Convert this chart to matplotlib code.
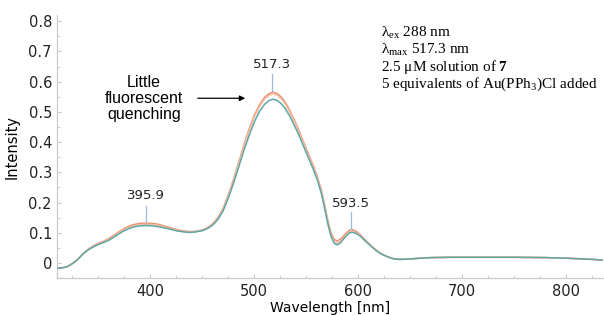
import matplotlib

matplotlib.use("Agg")
import matplotlib.pyplot as plt
from matplotlib.ticker import MultipleLocator

# emission spectra (3 overlapping scans)
wavelength = [310, 315, 320, 325, 330, 335, 340, 345, 350, 355, 360, 365, 370,
              375, 380, 385, 390, 396, 402, 408, 414, 420, 426, 432, 438, 444,
              450, 455, 460, 465, 470, 475, 480, 485, 490, 495, 500, 505, 510,
              514, 518, 522, 526, 530, 534, 538, 542, 547, 552, 557, 561, 565,
              568, 571, 574, 577, 580, 583, 587, 591, 594, 598, 602, 607, 612,
              617, 622, 628, 634, 640, 648, 656, 670, 690, 720, 750, 780, 800,
              820, 835]
scan_orange = [-0.017, -0.016, -0.012, -0.002, 0.012, 0.030, 0.045, 0.057, 0.065,
               0.072, 0.081, 0.092, 0.104, 0.114, 0.123, 0.128, 0.131, 0.132,
               0.131, 0.128, 0.122, 0.116, 0.110, 0.106, 0.104, 0.105, 0.109,
               0.117, 0.130, 0.150, 0.180, 0.224, 0.276, 0.332, 0.390, 0.442,
               0.488, 0.523, 0.548, 0.560, 0.565, 0.561, 0.549, 0.531, 0.506,
               0.477, 0.447, 0.404, 0.362, 0.321, 0.283, 0.236, 0.188, 0.139,
               0.099, 0.078, 0.073, 0.079, 0.094, 0.107, 0.111, 0.105, 0.094,
               0.076, 0.059, 0.044, 0.031, 0.021, 0.014, 0.012, 0.013, 0.015,
               0.018, 0.019, 0.019, 0.019, 0.018, 0.016, 0.013, 0.010]
scan_peach = [-0.017, -0.016, -0.012, -0.002, 0.012, 0.030, 0.044, 0.055, 0.063,
              0.070, 0.078, 0.089, 0.101, 0.111, 0.119, 0.124, 0.127, 0.128,
              0.127, 0.124, 0.119, 0.113, 0.108, 0.104, 0.102, 0.104, 0.108,
              0.116, 0.128, 0.148, 0.177, 0.221, 0.272, 0.328, 0.385, 0.436,
              0.482, 0.517, 0.542, 0.554, 0.559, 0.555, 0.543, 0.525, 0.500,
              0.472, 0.442, 0.400, 0.358, 0.317, 0.279, 0.231, 0.182, 0.132,
              0.092, 0.071, 0.066, 0.072, 0.088, 0.102, 0.106, 0.101, 0.091,
              0.074, 0.058, 0.043, 0.031, 0.021, 0.014, 0.012, 0.013, 0.015,
              0.018, 0.019, 0.019, 0.019, 0.018, 0.016, 0.013, 0.010]
scan_teal = [-0.017, -0.016, -0.012, -0.002, 0.011, 0.029, 0.043, 0.053, 0.061,
             0.068, 0.075, 0.086, 0.097, 0.107, 0.115, 0.120, 0.123, 0.124,
             0.123, 0.120, 0.116, 0.111, 0.106, 0.103, 0.101, 0.103, 0.107,
             0.114, 0.125, 0.144, 0.172, 0.214, 0.263, 0.317, 0.372, 0.421,
             0.466, 0.501, 0.525, 0.537, 0.542, 0.538, 0.527, 0.510, 0.487,
             0.460, 0.431, 0.390, 0.349, 0.309, 0.272, 0.225, 0.176, 0.127,
             0.087, 0.065, 0.060, 0.067, 0.084, 0.098, 0.102, 0.098, 0.089,
             0.072, 0.057, 0.042, 0.030, 0.021, 0.014, 0.012, 0.013, 0.015,
             0.018, 0.019, 0.019, 0.019, 0.018, 0.016, 0.013, 0.010]

peaks = [395.9, 517.3, 593.5]
peak_tops = [0.135, 0.568, 0.113]
line_tops = [0.19, 0.625, 0.168]
label_heights = [0.224, 0.658, 0.197]

tick_grey = "#c8c8c8"
label_font = "DejaVu Sans"

plt.rcParams["mathtext.fontset"] = "custom"
plt.rcParams["mathtext.rm"] = "Liberation Serif"
plt.rcParams["mathtext.it"] = "Liberation Serif:italic"
plt.rcParams["mathtext.bf"] = "Liberation Serif:bold"

fig = plt.figure(figsize=(6.04, 3.15), dpi=100)
ax = fig.add_axes([0.094, 0.117, 0.905, 0.835])

ax.plot(wavelength, scan_teal, color="#5fa6a6", lw=1.1, zorder=3)
ax.plot(wavelength, scan_peach, color="#f2bfa4", lw=1.1, zorder=2)
ax.plot(wavelength, scan_orange, color="#e8906e", lw=1.1, zorder=1)

for p, top, ltop, lab in zip(peaks, peak_tops, line_tops, label_heights):
    ax.plot([p, p], [top, ltop], color="#9db8d9", lw=0.9)
    ax.text(p, lab, f"{p:.1f}", ha="center", va="center", fontsize=9.5,
            family=label_font, color="#222222")

ax.text(394, 0.545, "Little\nfluorescent\nquenching", ha="center", va="center",
        fontsize=11.5, family="Liberation Sans", linespacing=1.1)
ax.annotate("", xy=(494, 0.545), xytext=(443, 0.545),
            arrowprops=dict(arrowstyle="-|>", color="black", lw=0.9,
                            mutation_scale=8))

info = ["λ$_{\\rm ex}$ 288 nm",
        "λ$_{\\rm max}$ 517.3 nm",
        "2.5 μM solution of $\\bf{7}$",
        "5 equivalents of Au(PPh$_3$)Cl added"]
for i, line in enumerate(info):
    ax.text(622, 0.76 - i * 0.056, line, ha="left", va="center",
            fontsize=11, family="Liberation Serif")

ax.set_xlim(310, 836)
ax.set_ylim(-0.05, 0.82)
ax.xaxis.set_major_locator(MultipleLocator(100))
ax.xaxis.set_minor_locator(MultipleLocator(25))
ax.yaxis.set_major_locator(MultipleLocator(0.1))
ax.yaxis.set_minor_locator(MultipleLocator(0.05))
ax.yaxis.set_major_formatter(plt.FuncFormatter(lambda v, _: "0" if abs(v) < 1e-9 else f"{v:.1f}"))

for side in ("top", "right"):
    ax.spines[side].set_visible(False)
for side in ("left", "bottom"):
    ax.spines[side].set_color(tick_grey)
    ax.spines[side].set_linewidth(0.9)
ax.tick_params(which="both", direction="in", color=tick_grey, labelsize=10.5,
               labelcolor="#222222")
ax.tick_params(which="major", length=3)
ax.tick_params(which="minor", length=2)
ax.tick_params(axis="x", pad=4)

ax.set_xlabel("Wavelength [nm]", fontsize=10, family=label_font)
ax.set_ylabel("Intensity", fontsize=10.5, family=label_font, labelpad=6)
ax.xaxis.set_label_coords(0.5, -0.085)

fig.savefig("out.png", dpi=100)
